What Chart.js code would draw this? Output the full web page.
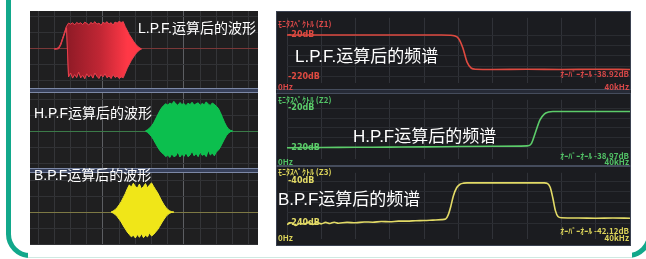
<!DOCTYPE html>
<html>
<head>
<meta charset="utf-8">
<script src="https://cdn.jsdelivr.net/npm/chart.js@4.4.1/dist/chart.umd.min.js"></script>
<style>
body{margin:0;width:646px;height:259px;background:#fff;position:relative;overflow:hidden;font-family:"Liberation Sans","Noto Sans CJK SC",sans-serif}
.abs{position:absolute}
#frame{left:6px;top:-40px;width:646px;height:298px;box-sizing:border-box;border:5px solid #12a88b;border-radius:0 0 24px 24px}
#cover{left:28px;top:252px;width:604px;height:7px;background:linear-gradient(#fff 0 5px,#cfe9e2 5px 6px,#fff 6px)}
#leftBg{left:30px;top:11px;width:228px;height:234px;background:#1f1f20}
#rightBg{left:276px;top:11px;width:355px;height:235px;background:#1b1c20;box-sizing:border-box;border:1px solid #3a4150}
.sepL{left:30px;width:228px;height:5px;background:linear-gradient(#7c88a6 0 1px,#37405a 1px 4px,#7c88a6 4px)}
.sepR{left:276px;width:355px;background:linear-gradient(#454c5c 0 1px,#262a36 1px,#262a36 calc(100% - 1px),#454c5c 0)}
.cv{position:absolute}
.cap{position:absolute;color:#fff;white-space:nowrap}
.capL{font-size:14px;line-height:16px}
.capR{font-size:17px;line-height:20px}
.sm{position:absolute;font-family:"Noto Sans CJK JP",sans-serif;font-size:8px;line-height:9px;font-weight:bold;white-space:nowrap}
</style>
</head>
<body>
<div id="frame" class="abs"></div>
<div id="cover" class="abs"></div>
<div id="leftBg" class="abs"></div>
<div id="rightBg" class="abs"></div>

<div class="cv" style="left:30px;top:11px;width:228px;height:77px"><canvas id="w1"></canvas></div>
<div class="cv" style="left:30px;top:93px;width:228px;height:75px"><canvas id="w2"></canvas></div>
<div class="cv" style="left:30px;top:173px;width:228px;height:72px"><canvas id="w3"></canvas></div>
<div class="abs sepL" style="top:88px"></div>
<div class="abs sepL" style="top:168px"></div>

<div class="cv" style="left:277px;top:12px;width:353px;height:77px"><canvas id="s1"></canvas></div>
<div class="cv" style="left:277px;top:94px;width:353px;height:71px"><canvas id="s2"></canvas></div>
<div class="cv" style="left:277px;top:167px;width:353px;height:78px"><canvas id="s3"></canvas></div>
<div class="abs sepR" style="top:89px;height:5px"></div>
<div class="abs sepR" style="top:165px;height:2px"></div>

<div class="cap capL" style="left:138px;top:20px">L.P.F.运算后的波形</div>
<div class="cap capL" style="left:34px;top:105px">H.P.F运算后的波形</div>
<div class="cap capL" style="left:34px;top:167px">B.P.F运算后的波形</div>
<div class="cap capR" style="left:295px;top:47px">L.P.F.运算后的频谱</div>
<div class="cap capR" style="left:353px;top:127px">H.P.F运算后的频谱</div>
<div class="cap capR" style="left:278px;top:190px">B.P.F运算后的频谱</div>

<div class="sm" style="left:278px;top:19px;color:#d84848">ﾓﾆﾀｽﾍﾟｸﾄﾙ (Z1)</div>
<div class="sm" style="left:278px;top:82px;color:#d84848">0Hz</div>
<div class="sm" style="right:17px;top:82px;color:#d84848">40kHz</div>
<div class="sm" style="right:17px;top:69px;color:#d84848">ｵｰﾊﾞｰｵｰﾙ -38.92dB</div>
<div class="sm" style="left:278px;top:95px;color:#52c266">ﾓﾆﾀｽﾍﾟｸﾄﾙ (Z2)</div>
<div class="sm" style="left:278px;top:157px;color:#52c266">0Hz</div>
<div class="sm" style="right:17px;top:157px;color:#52c266">40kHz</div>
<div class="sm" style="right:17px;top:151px;color:#52c266">ｵｰﾊﾞｰｵｰﾙ -38.97dB</div>
<div class="sm" style="left:278px;top:167px;color:#dcd45a">ﾓﾆﾀｽﾍﾟｸﾄﾙ (Z3)</div>
<div class="sm" style="left:278px;top:233px;color:#dcd45a">0Hz</div>
<div class="sm" style="right:17px;top:233px;color:#dcd45a">40kHz</div>
<div class="sm" style="right:17px;top:226px;color:#dcd45a">ｵｰﾊﾞｰｵｰﾙ -42.12dB</div>

<script>
// 波形：时间 (ms)，振幅 (div)
const lpfT = [-6,-5.75,-5.5,-5.25,-5,-4.75,-4.5,-4.25,-4,-3.75,-3.5,-3.25,-3,-2.75,-2.5,-2.25,-2,-1.75,-1.5,-1.25,-1,-0.75,-0.5,-0.25,0,0.25,0.5,0.75,1,1.25,1.5,1.75,2,2.25,2.5,2.75,3,3.25,3.5,3.75,4,4.25,4.5,4.75];
const lpfHi = [0,0.02,0.08,0.3,0.65,1.05,1.42,1.62,1.55,1.64,1.5,1.66,1.58,1.64,1.52,1.68,1.6,1.5,1.65,1.58,1.7,1.55,1.62,1.48,1.66,1.6,1.7,1.56,1.64,1.5,1.68,1.62,1.72,1.66,1.7,1.4,1.15,0.9,0.7,0.5,0.32,0.18,0.08,0];
const lpfLo = [0,0,0,0.2,0.55,0.95,1.32,-1.75,-1.5,-1.82,-1.6,-1.78,-1.45,-1.8,-1.65,-1.85,-1.55,-1.75,-1.6,-1.82,-1.5,-1.7,-1.85,-1.6,-1.75,-1.55,-1.8,-1.68,-1.85,-1.6,-1.78,-1.7,-1.85,-1.75,-1.8,-1.5,-1.2,-0.95,-0.72,-0.52,-0.34,-0.18,-0.08,0];

const hpfT = [5.25,5.5,5.75,6,6.25,6.5,6.75,7,7.25,7.5,7.75,8,8.25,8.5,8.75,9,9.25,9.5,9.75,10,10.25,10.5,10.75,11,11.25,11.5,11.75,12,12.25,12.5,12.75,13,13.25,13.5,13.75,14,14.25,14.5,14.75,15,15.25,15.5,15.75,16];
const hpfHi = [0,0.08,0.18,0.32,0.5,0.75,1.0,1.25,1.45,1.6,1.7,1.62,1.75,1.68,1.85,1.7,1.6,1.78,1.66,1.72,1.58,1.74,1.65,1.8,1.62,1.7,1.76,1.6,1.72,1.64,1.82,1.68,1.6,1.75,1.66,1.55,1.4,1.15,0.85,0.55,0.3,0.12,0.04,0];
const hpfLo = [0,-0.08,-0.2,-0.35,-0.55,-0.78,-1.0,-1.2,-1.35,-1.45,-1.6,-1.5,-1.65,-1.42,-1.6,-1.55,-1.3,-1.62,-1.45,-1.58,-1.35,-1.6,-1.5,-1.25,-1.55,-1.4,-1.6,-1.3,-1.52,-1.45,-1.6,-1.2,-1.5,-1.38,-1.55,-1.3,-1.2,-1.0,-0.75,-0.5,-0.28,-0.12,-0.04,0];

const bpfT = [1,1.25,1.5,1.75,2,2.25,2.5,2.75,3,3.25,3.5,3.75,4,4.25,4.5,4.75,5,5.25,5.5,5.75,6,6.25,6.5,6.75,7,7.25,7.5,7.75,8,8.25,8.5,8.75];
const bpfHi = [0,0.06,0.15,0.28,0.45,0.65,0.9,1.15,1.45,1.7,1.55,1.8,1.6,1.5,1.75,1.45,1.6,1.78,1.5,1.7,1.82,1.6,1.4,1.2,0.95,0.7,0.48,0.3,0.16,0.07,0.02,0];
const bpfLo = [0,-0.06,-0.15,-0.28,-0.45,-0.62,-0.85,-1.05,-1.25,-1.4,-1.55,-1.45,-1.62,-1.4,-1.58,-1.35,-1.6,-1.45,-1.55,-1.3,-1.5,-1.4,-1.25,-1.1,-0.9,-0.68,-0.48,-0.3,-0.16,-0.07,-0.02,0];

// 频谱：频率 (kHz)，电平 (dB)
const lpfF = [0,4,8,12,16,18,19,19.5,20,20.5,21,21.5,22,24,28,32,36,40];
const lpfDb = [-18,-18,-18,-18,-18,-18,-19,-22,-35,-80,-150,-180,-185,-186,-185,-186,-185,-186];
const hpfF = [0,4,8,12,16,20,24,28,28.5,29,29.5,30,30.5,31,34,37,40];
const hpfDb = [-221,-220,-219,-218,-217,-215,-214,-212,-200,-140,-80,-50,-40,-37,-37,-37,-37];
const bpfF = [0,0.5,1,1.5,2,2.5,3,3.5,4,4.5,5,5.5,6,7,8,9,10,11,12,13,14,15,16,17,18,18.5,18.8,19.1,19.4,19.8,20.2,20.6,21,25,30,30.4,30.7,31,31.3,31.6,32,34,36,38,40];
const bpfDb = [-246,-238,-250,-240,-244,-236,-246,-238,-243,-236,-241,-235,-240,-236,-238,-234,-235,-232,-233,-230,-230,-228,-227,-225,-223,-220,-200,-160,-110,-70,-54,-49,-48,-48,-48,-52,-70,-120,-180,-208,-214,-215,-216,-215,-216];

// 刻度
const waveGridMs = [-8,-6,-4,-2,0,2,4,6,8,10,12,14,16,18];
const waveGridDiv = [-2,-1,0,1,2];
const specGridKHz = [0,4,8,12,16,20,24,28,32,36,40];
const gridDbA = [-20,-70,-120,-170,-220];
const gridDbB = [-40,-90,-140,-190,-240];
const labelDbA = [-20,-220];
const labelDbB = [-40,-240];

function setTicks(list) {
  return function (axis) { axis.ticks = list.map(v => ({ value: v })); };
}

function wave(id, t, hi, lo, edge, fill, base, yMin, yMax, stripe) {
  const sets = [
    { data: t.map((x, i) => ({ x: x, y: hi[i] })), borderColor: edge, borderWidth: 1, pointRadius: 0, fill: false },
    { data: t.map((x, i) => ({ x: x, y: lo[i] })), borderColor: edge, borderWidth: 1, pointRadius: 0, fill: '-1', backgroundColor: fill }
  ];
  if (stripe) {
    // 振荡的竖纹：在上下包络之间来回
    sets.push({ data: t.map((x, i) => ({ x: x, y: i % 2 ? lo[i] : hi[i] })), borderColor: stripe,
                borderWidth: 0.8, pointRadius: 0, fill: false });
  }
  new Chart(document.getElementById(id), {
    type: 'line',
    data: { datasets: sets },
    options: {
      animation: false, responsive: true, maintainAspectRatio: false,
      layout: { padding: 0 },
      plugins: { legend: { display: false }, tooltip: { enabled: false } },
      scales: {
        x: { type: 'linear', min: -9.01, max: 19.14, afterBuildTicks: setTicks(waveGridMs),
             ticks: { display: false }, border: { display: false },
             grid: { drawTicks: false, color: c => c.tick.value % 10 === 0 ? '#5c5e62' : '#343538' } },
        y: { min: yMin, max: yMax, afterBuildTicks: setTicks(waveGridDiv),
             ticks: { display: false }, border: { display: false },
             grid: { drawTicks: false, color: c => c.tick.value === 0 ? base : '#313235' } }
      }
    }
  });
}

function spectrum(id, f, db, color, yMin, yMax, grid, labels) {
  new Chart(document.getElementById(id), {
    type: 'line',
    data: {
      datasets: [{ data: f.map((x, i) => ({ x: x, y: db[i] })), borderColor: color, borderWidth: 1.6,
                   pointRadius: 0, cubicInterpolationMode: 'monotone', yAxisID: 'y' }]
    },
    options: {
      animation: false, responsive: true, maintainAspectRatio: false,
      layout: { padding: 0 },
      plugins: { legend: { display: false }, tooltip: { enabled: false } },
      scales: {
        x: { type: 'linear', min: 0, max: 40, afterBuildTicks: setTicks(specGridKHz),
             ticks: { display: false }, border: { display: false },
             grid: { drawTicks: false, color: '#303238' } },
        y: { min: yMin, max: yMax, afterBuildTicks: setTicks(grid),
             ticks: { display: false }, border: { display: false },
             grid: { drawTicks: false, color: '#2a2c31' } },
        yl: { position: 'left', min: yMin, max: yMax, afterBuildTicks: setTicks(labels),
              border: { display: false }, grid: { display: false },
              ticks: { mirror: true, padding: 1, color: color,
                       font: { size: 8, weight: 'bold', family: 'DejaVu Sans' },
                       callback: v => v + 'dB' } }
      }
    }
  });
}

wave('w1', lpfT, lpfHi, lpfLo, '#e8404c', function (c) {
  const a = c.chart.chartArea;
  if (!a) return '#d8303c';
  const sx = c.chart.scales.x;
  const g = c.chart.ctx.createLinearGradient(sx.getPixelForValue(-4.5), 0, sx.getPixelForValue(3), 0);
  g.addColorStop(0, '#8e1a26');
  g.addColorStop(0.55, '#c02634');
  g.addColorStop(1, '#ff3846');
  return g;
}, '#7a3838', -2.44, 2.375, 'rgba(255,90,100,0.75)');
wave('w2', hpfT, hpfHi, hpfLo, '#12c452', '#0cbf4e', '#3b7a48', -2.31, 2.375, 'rgba(10,150,60,0.6)');
wave('w3', bpfT, bpfHi, bpfLo, '#f2ea2a', '#f0e618', '#7d7944', -2.06, 2.44, null);

spectrum('s1', lpfF, lpfDb, '#de4a40', -252.7, 65.7, gridDbA, labelDbA);
spectrum('s2', hpfF, hpfDb, '#5ccc6a', -279.6, 22.6, gridDbA, labelDbA);
spectrum('s3', bpfF, bpfDb, '#e2da66', -316, 0, gridDbB, labelDbB);
</script>
</body>
</html>
